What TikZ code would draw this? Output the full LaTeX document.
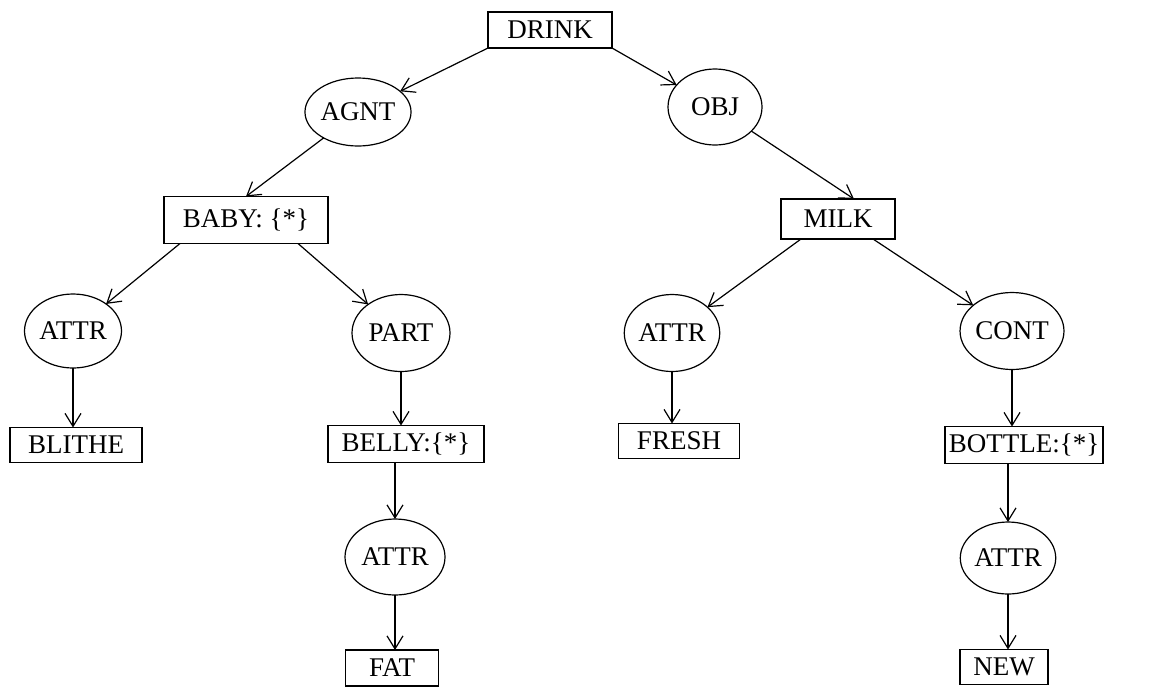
\documentclass[tikz,border=0pt]{standalone}
\usepackage{fontspec}
\setmainfont{Liberation Serif}
\usetikzlibrary{shapes.geometric,arrows.meta}
\begin{document}
\begin{tikzpicture}[x=0.5pt, y=-0.5pt, line width=0.6pt,
    every node/.style={font=\fontsize{13.5}{15}\selectfont, inner sep=0pt, outer sep=0pt},
    concept/.style={draw, rectangle, minimum height=18pt},
    relation/.style={draw, ellipse, minimum width=47pt, minimum height=37pt},
    link/.style={-{Straight Barb[length=6.5pt, width=8pt]}}]
      \useasboundingbox (0, 0) rectangle (1149, 686);
      % top level
      \node [concept, minimum width=62pt] (drink) at (550, 30) {DRINK};
      \node [relation, minimum width=46pt, minimum height=34pt] (agnt) at (358, 112) {AGNT};
      \node [relation, minimum width=47pt, minimum height=38pt] (obj) at (715, 107) {OBJ};
      \node [concept, minimum width=82pt, minimum height=23.5pt] (baby) at (246, 220) {BABY: \{*\}};
      \node [concept, minimum width=57pt, minimum height=20pt] (milk) at (838, 219) {MILK};
      % left branch
      \node [relation, minimum width=48.5pt] (attrA) at (73, 331) {ATTR};
      \node [relation, minimum width=49pt, minimum height=38.5pt] (part) at (401, 333) {PART};
      \node [concept, minimum width=66pt, minimum height=17.5pt] (blithe) at (76, 445) {BLITHE};
      \node [concept, minimum width=78pt, minimum height=18.5pt] (belly) at (406, 444) {BELLY:\{*\}};
      \node [relation, minimum width=50pt, minimum height=38pt] (attrB) at (395, 557) {ATTR};
      \node [concept, minimum width=46.5pt] (fat) at (392, 668) {FAT};
      % right branch
      \node [relation, minimum width=45pt, minimum height=38.5pt] (attrC) at (672, 333) {ATTR};
      \node [relation, minimum width=45pt, minimum height=38.5pt] (cont) at (1012, 331) {CONT};
      \node [concept, minimum width=60.5pt, minimum height=17.5pt] (fresh) at (679, 441) {FRESH};
      \node [concept, minimum width=79pt, minimum height=18.5pt] (bottle) at (1024, 445) {BOTTLE:\{*\}};
      \node [relation, minimum width=40pt, minimum height=36pt] (attrD) at (1008, 558) {ATTR};
      \node [concept, minimum width=44pt, minimum height=17.5pt] (new) at (1004, 667) {NEW};
      % connectors
      \draw [link] (drink.south west) -- (agnt);
      \draw [link] (drink.south east) -- (obj);
      \draw [link] (agnt) -- (baby.north);
      \draw [link] (obj) -- ([xshift=8pt]milk.north);
      \draw [link] ([xshift=8pt]baby.south west) -- (attrA);
      \draw [link] ([xshift=-15pt]baby.south east) -- (part);
      \draw [link] (attrA.south) -- (attrA.south |- blithe.north);
      \draw [link] (part.south) -- (part.south |- belly.north);
      \draw [link] (attrB.north |- belly.south) -- (attrB.north);
      \draw [link] (attrB.south) -- (attrB.south |- fat.north);
      \draw [link] ([xshift=10pt]milk.south west) -- (attrC);
      \draw [link] ([xshift=-11pt]milk.south east) -- (cont);
      \draw [link] (attrC.south) -- (attrC.south |- fresh.north);
      \draw [link] (cont.south) -- (cont.south |- bottle.north);
      \draw [link] (attrD.north |- bottle.south) -- (attrD.north);
      \draw [link] (attrD.south) -- (attrD.south |- new.north);
    \end{tikzpicture}
\end{document}
